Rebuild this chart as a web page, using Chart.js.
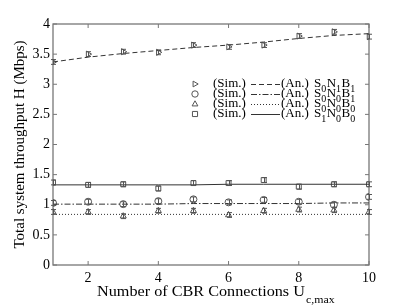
<!DOCTYPE html>
<html>
<head>
<meta charset="utf-8">
<style>
  html, body { margin: 0; padding: 0; background: #fff; }
  #wrap { width: 407px; height: 306px; }
</style>
</head>
<body>
<div id="wrap"><canvas id="chartH"></canvas></div>
<script src="https://cdn.jsdelivr.net/npm/chart.js@4.4.1/dist/chart.umd.min.js"></script>
<script>
// number of CBR connections
const xVals = [1, 2, 3, 4, 5, 6, 7, 8, 9, 10];
const xTicks = [2, 4, 6, 8, 10];
const yTicks = [0, 0.5, 1, 1.5, 2, 2.5, 3, 3.5, 4];

// simulation points and analytic curves (Mbps)
const simS0N1B1 = [3.37, 3.50, 3.54, 3.53, 3.65, 3.62, 3.65, 3.80, 3.87, 3.79];
const anS0N1B1  = [3.37, 3.45, 3.51, 3.56, 3.61, 3.65, 3.70, 3.76, 3.81, 3.84];
const simS0N0B1 = [1.03, 1.05, 1.01, 1.06, 1.09, 1.04, 1.08, 1.05, 1.00, 1.13];
const anS0N0B1  = [1.01, 1.01, 1.01, 1.01, 1.02, 1.02, 1.02, 1.02, 1.03, 1.03];
const simS0N0B0 = [0.88, 0.88, 0.81, 0.90, 0.90, 0.83, 0.90, 0.92, 0.91, 0.88];
const anS0N0B0  = [0.84, 0.84, 0.84, 0.84, 0.84, 0.84, 0.84, 0.84, 0.84, 0.84];
const simS1N0B0 = [1.37, 1.33, 1.34, 1.27, 1.36, 1.36, 1.41, 1.30, 1.34, 1.34];
const anS1N0B0  = [1.33, 1.33, 1.33, 1.33, 1.33, 1.34, 1.34, 1.34, 1.34, 1.34];
const simErr = 0.04; // half height of the little error bars

const FONT = '"Liberation Serif", "Times New Roman", serif';
const frameColor = '#777';
const markColor = '#555';
const lineColor = '#333';

function pts(arr) { return xVals.map((x, i) => ({x: x, y: arr[i]})); }

// legend rows: marker, dash pattern, label parts [main, sub]
const legendRows = [
    {style: 'triangle', rot: 90, dash: [5, 3], label: [['S', '0'], ['N', '1'], ['B', '1']]},
    {style: 'circle', rot: 0, dash: [6, 2, 1.5, 2], label: [['S', '0'], ['N', '0'], ['B', '1']]},
    {style: 'triangle', rot: 0, dash: [1, 2], label: [['S', '0'], ['N', '0'], ['B', '0']]},
    {style: 'rect', rot: 0, dash: [], label: [['S', '1'], ['N', '0'], ['B', '0']]}
];

function simSet(data, style, rot) {
    return {
        data: pts(data), showLine: false, pointStyle: style, rotation: rot,
        pointRadius: 3.5, pointBorderWidth: 1, borderColor: markColor,
        pointBorderColor: markColor, pointBackgroundColor: 'rgba(0,0,0,0)',
        backgroundColor: 'rgba(0,0,0,0)'
    };
}
function anSet(data, dash) {
    return {
        data: pts(data), pointRadius: 0, borderColor: lineColor, borderWidth: 1,
        borderDash: dash, tension: 0, fill: false
    };
}

function drawMarker(ctx, style, rot, x, y, r) {
    ctx.save();
    ctx.translate(x, y);
    ctx.rotate(rot * Math.PI / 180);
    ctx.beginPath();
    if (style === 'circle') {
        ctx.arc(0, 0, r, 0, Math.PI * 2);
    } else if (style === 'rect') {
        ctx.rect(-r * 0.8, -r * 0.8, r * 1.6, r * 1.6);
    } else {
        ctx.moveTo(0, -r);
        ctx.lineTo(r * 0.9, r * 0.6);
        ctx.lineTo(-r * 0.9, r * 0.6);
        ctx.closePath();
    }
    ctx.stroke();
    ctx.restore();
}

// draws text with subscript parts, returns end x
function drawSubText(ctx, parts, x, y, size) {
    parts.forEach(p => {
        ctx.font = size + 'px ' + FONT;
        ctx.fillText(p[0], x, y);
        x += ctx.measureText(p[0]).width;
        if (p[1]) {
            ctx.font = Math.round(size * 0.75) + 'px ' + FONT;
            ctx.fillText(p[1], x, y + size * 0.4);
            x += ctx.measureText(p[1]).width + 0.5;
        }
    });
    return x;
}

const framePlugin = {
    id: 'frame',
    beforeDatasetsDraw(chart) {
        const ctx = chart.ctx, a = chart.chartArea;
        const xs = chart.scales.x, ys = chart.scales.y;
        ctx.save();
        ctx.strokeStyle = frameColor;
        ctx.lineWidth = 1.3;
        ctx.strokeRect(a.left, a.top, a.right - a.left, a.bottom - a.top);
        ctx.lineWidth = 1;
        ctx.beginPath();
        yTicks.forEach(v => {
            const py = ys.getPixelForValue(v);
            ctx.moveTo(a.left, py); ctx.lineTo(a.left + 4, py);
            ctx.moveTo(a.right, py); ctx.lineTo(a.right - 4, py);
        });
        xTicks.forEach(v => {
            const px = xs.getPixelForValue(v);
            ctx.moveTo(px, a.bottom); ctx.lineTo(px, a.bottom - 4);
            ctx.moveTo(px, a.top); ctx.lineTo(px, a.top + 4);
        });
        ctx.stroke();
        ctx.restore();
    },
    afterDatasetsDraw(chart) {
        const ctx = chart.ctx;
        const xs = chart.scales.x, ys = chart.scales.y;
        ctx.save();
        // error bars on the simulation points
        ctx.strokeStyle = markColor;
        ctx.lineWidth = 1;
        [simS0N1B1, simS0N0B1, simS0N0B0, simS1N0B0].forEach(arr => {
            ctx.beginPath();
            xVals.forEach((x, i) => {
                const px = Math.round(xs.getPixelForValue(x)) + 0.5;
                const y1 = ys.getPixelForValue(arr[i] + simErr);
                const y2 = ys.getPixelForValue(arr[i] - simErr);
                ctx.moveTo(px, y1); ctx.lineTo(px, y2);
                ctx.moveTo(px - 2.5, y1); ctx.lineTo(px + 2.5, y1);
                ctx.moveTo(px - 2.5, y2); ctx.lineTo(px + 2.5, y2);
            });
            ctx.stroke();
        });

        // legend
        ctx.textBaseline = 'middle';
        ctx.fillStyle = '#000';
        legendRows.forEach((row, i) => {
            const y = 84 + i * 10;
            ctx.strokeStyle = markColor;
            ctx.lineWidth = 1;
            ctx.setLineDash([]);
            drawMarker(ctx, row.style, row.rot, 195, y, 3.2);
            ctx.font = '13px ' + FONT;
            ctx.fillText('(Sim.)', 213, y);
            ctx.strokeStyle = lineColor;
            ctx.setLineDash(row.dash);
            ctx.beginPath();
            ctx.moveTo(251, y + 0.5); ctx.lineTo(280, y + 0.5);
            ctx.stroke();
            ctx.setLineDash([]);
            ctx.font = '13px ' + FONT;
            ctx.fillText('(An.)', 281, y);
            drawSubText(ctx, row.label, 314, y, 13);
        });

        // x axis title with subscript, a bit wider than tall like the original
        ctx.save();
        ctx.translate(97, 292);
        ctx.scale(1.08, 1);
        ctx.font = '15px ' + FONT;
        const main = 'Number of CBR Connections U';
        ctx.fillText(main, 0, 0);
        const w = ctx.measureText(main).width;
        ctx.font = '11px ' + FONT;
        ctx.fillText('c,max', w + 1, 8);
        ctx.restore();
        ctx.restore();
    }
};

const chartH = new Chart(document.getElementById('chartH'), {
    type: 'line',
    data: {
        datasets: [
            anSet(anS0N1B1, [5, 3]),
            anSet(anS0N0B1, [6, 2, 1.5, 2]),
            anSet(anS0N0B0, [1, 2]),
            anSet(anS1N0B0, []),
            simSet(simS0N1B1, 'triangle', 90),
            simSet(simS0N0B1, 'circle', 0),
            simSet(simS0N0B0, 'triangle', 0),
            simSet(simS1N0B0, 'rect', 0)
        ]
    },
    options: {
        responsive: true,
        maintainAspectRatio: false,
        animation: false,
        events: [],
        layout: { padding: { left: 0, top: 24, right: 38, bottom: 0 } },
        plugins: {
            legend: { display: false },
            tooltip: { enabled: false }
        },
        scales: {
            x: {
                type: 'linear',
                min: 1,
                max: 10,
                afterBuildTicks: s => { s.ticks = xTicks.map(v => ({value: v})); },
                afterFit: s => { s.height = 41; },
                grid: { display: false, drawTicks: false },
                border: { display: false },
                ticks: {
                    padding: 5,
                    color: '#000',
                    font: { family: FONT, size: 14 },
                    callback: v => String(v)
                }
            },
            y: {
                min: 0,
                max: 4,
                afterBuildTicks: s => { s.ticks = yTicks.map(v => ({value: v})); },
                afterFit: s => { s.width = 53; },
                grid: { display: false, drawTicks: false },
                border: { display: false },
                ticks: {
                    padding: 3,
                    color: '#000',
                    font: { family: FONT, size: 14 },
                    callback: v => String(v)
                },
                title: {
                    display: true,
                    text: 'Total system throughput H (Mbps)',
                    color: '#000',
                    font: { family: FONT, size: 15 },
                    padding: { top: 11, bottom: 0 }
                }
            }
        }
    },
    plugins: [framePlugin]
});
</script>
</body>
</html>
